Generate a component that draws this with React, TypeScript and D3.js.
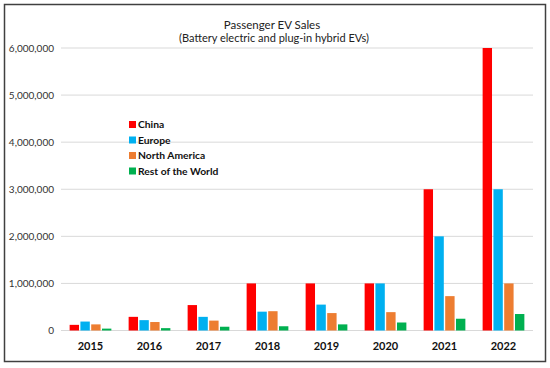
import { useRef, useEffect } from 'react';
import * as d3 from 'd3';

const years = ['2015', '2016', '2017', '2018', '2019', '2020', '2021', '2022'];
const regions = ['China', 'Europe', 'North America', 'Rest of the World'];
const colors = ['#ff0000', '#00b0f0', '#ed7d31', '#00b050'];
const china = [120000, 290000, 540000, 1000000, 1000000, 1000000, 3000000, 6000000];
const europe = [190000, 220000, 290000, 400000, 550000, 1000000, 2000000, 3000000];
const northAmerica = [130000, 180000, 210000, 410000, 370000, 390000, 730000, 1000000];
const restOfWorld = [40000, 50000, 80000, 90000, 130000, 170000, 250000, 350000];
const yTicks = [0, 1000000, 2000000, 3000000, 4000000, 5000000, 6000000];

export default function App() {
  const ref = useRef(null);

  useEffect(() => {
    const svg = d3.select(ref.current);
    svg.selectAll('*').remove();
    const font = 'Lato, "Open Sans", sans-serif';
    const series = [china, europe, northAmerica, restOfWorld];

    // frame
    svg.append('rect')
      .attr('x', 4.5).attr('y', 4.5)
      .attr('width', 541).attr('height', 357)
      .attr('fill', '#fff')
      .attr('stroke', '#404040')
      .attr('stroke-width', 1.5);

    const left = 61;
    const right = 533;
    const x = d3.scaleBand().domain(years).range([left, right]);
    const inner = d3.scaleBand().domain(regions).range([0, x.bandwidth()]).paddingInner(0.13).paddingOuter(0.8);
    const y = d3.scaleLinear().domain([0, 6000000]).range([330.5, 48]);

    const g = svg.append('g');

    g.selectAll('.grid')
      .data(yTicks)
      .enter()
      .append('line')
      .attr('x1', left).attr('x2', right)
      .attr('y1', (d) => y(d)).attr('y2', (d) => y(d))
      .attr('stroke', '#d9d9d9')
      .attr('stroke-width', 1);

    g.selectAll('.ytick')
      .data(yTicks)
      .enter()
      .append('text')
      .attr('x', 54)
      .attr('y', (d) => y(d))
      .attr('dy', '0.35em')
      .attr('text-anchor', 'end')
      .attr('font-family', font)
      .attr('font-size', 10)
      .attr('fill', '#333')
      .text((d) => d3.format(',')(d));

    series.forEach((vals, si) => {
      g.selectAll('.bar' + si)
        .data(vals)
        .enter()
        .append('rect')
        .attr('x', (d, i) => x(years[i]) + inner(regions[si]))
        .attr('y', (d) => y(d))
        .attr('width', inner.bandwidth())
        .attr('height', (d) => y(0) - y(d))
        .attr('fill', colors[si]);
    });

    g.selectAll('.xlab')
      .data(years)
      .enter()
      .append('text')
      .attr('x', (d) => x(d) + x.bandwidth() / 2)
      .attr('y', 350)
      .attr('text-anchor', 'middle')
      .attr('font-family', font)
      .attr('font-size', 11)
      .attr('font-weight', 'bold')
      .attr('fill', '#111')
      .text((d) => d);

    // title
    svg.append('text')
      .attr('x', 272).attr('y', 28.5)
      .attr('text-anchor', 'middle')
      .attr('font-family', font)
      .attr('font-size', 11.5)
      .attr('fill', '#222')
      .text('Passenger EV Sales');
    svg.append('text')
      .attr('x', 274).attr('y', 42)
      .attr('text-anchor', 'middle')
      .attr('font-family', font)
      .attr('font-size', 11)
      .attr('fill', '#222')
      .text('(Battery electric and plug-in hybrid EVs)');

    // legend
    const legend = svg.append('g').attr('transform', 'translate(129,124.5)');
    regions.forEach((r, i) => {
      const row = legend.append('g').attr('transform', `translate(0,${i * 15.5})`);
      row.append('rect')
        .attr('x', 0).attr('y', -3.5)
        .attr('width', 7).attr('height', 7)
        .attr('fill', colors[i]);
      row.append('text')
        .attr('x', 9)
        .attr('y', 0)
        .attr('dy', '0.35em')
        .attr('font-family', font)
        .attr('font-size', 10.3)
        .attr('font-weight', 'bold')
        .attr('fill', '#111')
        .text(r);
    });
  }, []);

  return (
    <svg
      ref={ref}
      width={550}
      height={368}
      style={{ position: 'absolute', left: 0, top: 0, background: '#fff' }}
    />
  );
}
